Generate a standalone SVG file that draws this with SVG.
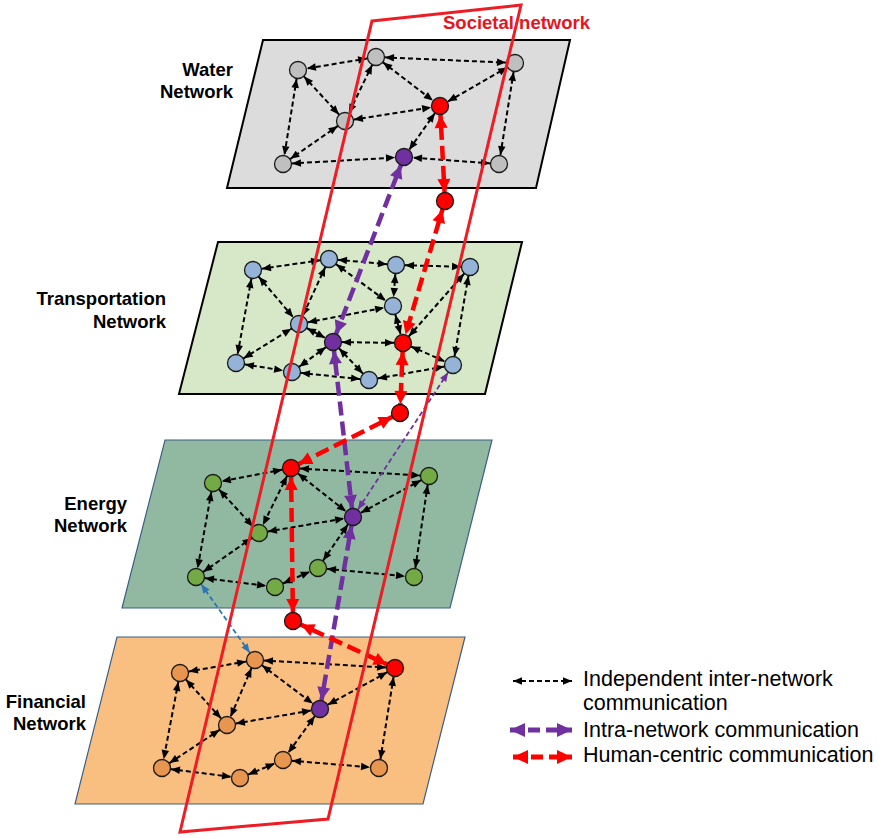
<svg xmlns="http://www.w3.org/2000/svg" width="879" height="838" viewBox="0 0 879 838">
<style>
.lbl{font-family:"Liberation Sans",Arial,sans-serif;font-weight:bold;font-size:18.5px;fill:#000}
.leg{font-family:"Liberation Sans",Arial,sans-serif;font-size:21.5px;fill:#000}
.e{stroke:#000;stroke-width:2;stroke-dasharray:5 3;fill:none;marker-start:url(#ab);marker-end:url(#ab)}
.hr{stroke:#ff0000;stroke-width:4.5;stroke-dasharray:14 6;fill:none;marker-start:url(#ar);marker-end:url(#ar)}
.ip{stroke:#7030a0;stroke-width:4.5;stroke-dasharray:14 6;fill:none;marker-start:url(#ap);marker-end:url(#ap)}
.tp{stroke:#7030a0;stroke-width:1.8;stroke-dasharray:5 3;fill:none;marker-start:url(#apt);marker-end:url(#apt)}
.tb{stroke:#2e75b6;stroke-width:1.8;stroke-dasharray:5 3;fill:none;marker-start:url(#abl);marker-end:url(#abl)}
circle{stroke:#1a1a1a;stroke-width:1.3}
.w{fill:#bfbfbf}.t{fill:#95b3d7}.g{fill:#74aa45}.o{fill:#e8954f}.r{fill:#ff0000}.p{fill:#7030a0}
</style>
<defs>
<marker id="ab" markerUnits="userSpaceOnUse" markerWidth="9" markerHeight="8" refX="18" refY="3.75" orient="auto-start-reverse" overflow="visible"><path d="M0,0 L9,3.75 L0,7.5 z" fill="#000"/></marker>
<marker id="apt" markerUnits="userSpaceOnUse" markerWidth="9" markerHeight="8" refX="18" refY="3.75" orient="auto-start-reverse" overflow="visible"><path d="M0,0 L9,3.75 L0,7.5 z" fill="#7030a0"/></marker>
<marker id="abl" markerUnits="userSpaceOnUse" markerWidth="9" markerHeight="8" refX="18" refY="3.75" orient="auto-start-reverse" overflow="visible"><path d="M0,0 L9,3.75 L0,7.5 z" fill="#2e75b6"/></marker>
<marker id="ar" markerUnits="userSpaceOnUse" markerWidth="13" markerHeight="13" refX="22" refY="6.5" orient="auto-start-reverse" overflow="visible"><path d="M0,0 L13,6.5 L0,13 z" fill="#ff0000"/></marker>
<marker id="ap" markerUnits="userSpaceOnUse" markerWidth="13" markerHeight="13" refX="22" refY="6.5" orient="auto-start-reverse" overflow="visible"><path d="M0,0 L13,6.5 L0,13 z" fill="#7030a0"/></marker>
<marker id="lb" markerUnits="userSpaceOnUse" markerWidth="9" markerHeight="8" refX="9" refY="3.75" orient="auto-start-reverse" overflow="visible"><path d="M0,0 L9,3.75 L0,7.5 z" fill="#000"/></marker>
<marker id="lr" markerUnits="userSpaceOnUse" markerWidth="15" markerHeight="14" refX="15" refY="7" orient="auto-start-reverse" overflow="visible"><path d="M0,0 L15,7 L0,14 z" fill="#ff0000"/></marker>
<marker id="lp" markerUnits="userSpaceOnUse" markerWidth="15" markerHeight="14" refX="15" refY="7" orient="auto-start-reverse" overflow="visible"><path d="M0,0 L15,7 L0,14 z" fill="#7030a0"/></marker>
</defs>
<rect width="879" height="838" fill="#fff"/>
<g id="planes">
<polygon id="water-plane" points="263,40 570,40 536,188 227,188" fill="#dcdcdc" stroke="#000" stroke-width="2"/>
<polygon id="transport-plane" points="218,242 522,242 485,394 179,394" fill="#d6e8c8" stroke="#000" stroke-width="2"/>
<polygon id="energy-plane" points="165,440 492,440 450,608 122,608" fill="#91b9a1" stroke="#3d5f85" stroke-width="1.2"/>
<polygon id="financial-plane" points="117,637 465,637 423,804 75,804" fill="#f9bf80" stroke="#3d5f85" stroke-width="1.2"/>
</g>
<g id="labels">
<text class="lbl" x="233" y="76" text-anchor="end">Water</text>
<text class="lbl" x="233" y="98" text-anchor="end">Network</text>
<text class="lbl" x="166" y="305" text-anchor="end">Transportation</text>
<text class="lbl" x="166" y="328" text-anchor="end">Network</text>
<text class="lbl" x="127" y="510" text-anchor="end">Energy</text>
<text class="lbl" x="127" y="532" text-anchor="end">Network</text>
<text class="lbl" x="86" y="708" text-anchor="end">Financial</text>
<text class="lbl" x="86" y="730" text-anchor="end">Network</text>
</g>
<g id="connectors">
<line class="e" x1="376" y1="57" x2="298" y2="70"/>
<line class="e" x1="376" y1="57" x2="515" y2="63"/>
<line class="e" x1="376" y1="57" x2="440" y2="106"/>
<line class="e" x1="376" y1="57" x2="345" y2="121"/>
<line class="e" x1="298" y1="70" x2="345" y2="121"/>
<line class="e" x1="298" y1="70" x2="283" y2="164"/>
<line class="e" x1="515" y1="63" x2="440" y2="106"/>
<line class="e" x1="345" y1="121" x2="440" y2="106"/>
<line class="e" x1="345" y1="121" x2="283" y2="164"/>
<line class="e" x1="440" y1="106" x2="404" y2="157"/>
<line class="e" x1="515" y1="63" x2="499" y2="164"/>
<line class="e" x1="283" y1="164" x2="404" y2="157"/>
<line class="e" x1="499" y1="164" x2="404" y2="157"/>
<line class="e" x1="329" y1="259" x2="253" y2="270"/>
<line class="e" x1="329" y1="259" x2="396" y2="265"/>
<line class="e" x1="396" y1="265" x2="470" y2="267"/>
<line class="e" x1="329" y1="259" x2="299" y2="324"/>
<line class="e" x1="253" y1="270" x2="299" y2="324"/>
<line class="e" x1="253" y1="270" x2="236" y2="363"/>
<line class="e" x1="329" y1="259" x2="393" y2="306"/>
<line class="e" x1="396" y1="265" x2="393" y2="306"/>
<line class="e" x1="299" y1="324" x2="393" y2="306"/>
<line class="e" x1="393" y1="306" x2="403" y2="343"/>
<line class="e" x1="470" y1="267" x2="403" y2="343"/>
<line class="e" x1="470" y1="267" x2="453" y2="365"/>
<line class="e" x1="299" y1="324" x2="333" y2="342"/>
<line class="e" x1="333" y1="342" x2="403" y2="343"/>
<line class="e" x1="403" y1="343" x2="453" y2="365"/>
<line class="e" x1="236" y1="363" x2="299" y2="324"/>
<line class="e" x1="236" y1="363" x2="292" y2="372"/>
<line class="e" x1="333" y1="342" x2="292" y2="372"/>
<line class="e" x1="333" y1="342" x2="369" y2="380"/>
<line class="e" x1="292" y1="372" x2="369" y2="380"/>
<line class="e" x1="369" y1="380" x2="453" y2="365"/>
<line class="e" x1="291" y1="468" x2="213" y2="483"/>
<line class="e" x1="291" y1="468" x2="429" y2="476"/>
<line class="e" x1="291" y1="468" x2="259" y2="533"/>
<line class="e" x1="291" y1="468" x2="353" y2="517"/>
<line class="e" x1="213" y1="483" x2="259" y2="533"/>
<line class="e" x1="213" y1="483" x2="196" y2="577"/>
<line class="e" x1="429" y1="476" x2="353" y2="517"/>
<line class="e" x1="429" y1="476" x2="414" y2="577"/>
<line class="e" x1="259" y1="533" x2="353" y2="517"/>
<line class="e" x1="259" y1="533" x2="196" y2="577"/>
<line class="e" x1="353" y1="517" x2="318" y2="568"/>
<line class="e" x1="196" y1="577" x2="275" y2="587"/>
<line class="e" x1="275" y1="587" x2="318" y2="568"/>
<line class="e" x1="318" y1="568" x2="414" y2="577"/>
<line class="e" x1="255" y1="660" x2="180" y2="673"/>
<line class="e" x1="255" y1="660" x2="395" y2="668"/>
<line class="e" x1="255" y1="660" x2="227" y2="725"/>
<line class="e" x1="255" y1="660" x2="320" y2="709"/>
<line class="e" x1="180" y1="673" x2="227" y2="725"/>
<line class="e" x1="180" y1="673" x2="162" y2="768"/>
<line class="e" x1="395" y1="668" x2="320" y2="709"/>
<line class="e" x1="395" y1="668" x2="379" y2="768"/>
<line class="e" x1="227" y1="725" x2="320" y2="709"/>
<line class="e" x1="227" y1="725" x2="162" y2="768"/>
<line class="e" x1="320" y1="709" x2="283" y2="760"/>
<line class="e" x1="162" y1="768" x2="240" y2="778"/>
<line class="e" x1="240" y1="778" x2="283" y2="760"/>
<line class="e" x1="283" y1="760" x2="379" y2="768"/>
<line class="tp" x1="453" y1="365" x2="353" y2="517"/>
<line class="tb" x1="196" y1="577" x2="255" y2="660"/>
<line class="ip" x1="404" y1="157" x2="333" y2="342"/>
<line class="ip" x1="333" y1="342" x2="353" y2="517"/>
<line class="ip" x1="353" y1="517" x2="320" y2="709"/>
<line class="hr" x1="440" y1="106" x2="445" y2="201"/>
<line class="hr" x1="445" y1="201" x2="403" y2="343"/>
<line class="hr" x1="403" y1="343" x2="400" y2="413"/>
<line class="hr" x1="400" y1="413" x2="291" y2="468"/>
<line class="hr" x1="291" y1="468" x2="293" y2="621"/>
<line class="hr" x1="293" y1="621" x2="395" y2="668"/>
</g>
<g id="nodes">
<g id="water-a"><circle class="w" cx="298" cy="70" r="8.5"/></g>
<g id="water-b"><circle class="w" cx="376" cy="57" r="8.5"/></g>
<g id="water-c"><circle class="w" cx="515" cy="63" r="8.5"/></g>
<g id="water-d"><circle class="r" cx="440" cy="106" r="8.5"/></g>
<g id="water-e"><circle class="w" cx="345" cy="121" r="8.5"/></g>
<g id="water-f"><circle class="w" cx="283" cy="164" r="8.5"/></g>
<g id="water-g"><circle class="p" cx="404" cy="157" r="8.5"/></g>
<g id="water-h"><circle class="w" cx="499" cy="164" r="8.5"/></g>
<g id="water-i"><circle class="r" cx="445" cy="201" r="8.5"/></g>
<g id="trans-1"><circle class="t" cx="253" cy="270" r="8.5"/></g>
<g id="trans-2"><circle class="t" cx="329" cy="259" r="8.5"/></g>
<g id="trans-3"><circle class="t" cx="396" cy="265" r="8.5"/></g>
<g id="trans-4"><circle class="t" cx="470" cy="267" r="8.5"/></g>
<g id="trans-5"><circle class="t" cx="393" cy="306" r="8.5"/></g>
<g id="trans-6"><circle class="t" cx="299" cy="324" r="8.5"/></g>
<g id="trans-7"><circle class="p" cx="333" cy="342" r="8.5"/></g>
<g id="trans-8"><circle class="r" cx="403" cy="343" r="8.5"/></g>
<g id="trans-9"><circle class="t" cx="236" cy="363" r="8.5"/></g>
<g id="trans-10"><circle class="t" cx="292" cy="372" r="8.5"/></g>
<g id="trans-11"><circle class="t" cx="369" cy="380" r="8.5"/></g>
<g id="trans-12"><circle class="t" cx="453" cy="365" r="8.5"/></g>
<g id="trans-13"><circle class="r" cx="400" cy="413" r="8.5"/></g>
<g id="energy-1"><circle class="r" cx="291" cy="468" r="8.5"/></g>
<g id="energy-2"><circle class="g" cx="213" cy="483" r="8.5"/></g>
<g id="energy-3"><circle class="g" cx="429" cy="476" r="8.5"/></g>
<g id="energy-4"><circle class="p" cx="353" cy="517" r="8.5"/></g>
<g id="energy-5"><circle class="g" cx="259" cy="533" r="8.5"/></g>
<g id="energy-6"><circle class="g" cx="196" cy="577" r="8.5"/></g>
<g id="energy-7"><circle class="g" cx="318" cy="568" r="8.5"/></g>
<g id="energy-8"><circle class="g" cx="275" cy="587" r="8.5"/></g>
<g id="energy-9"><circle class="g" cx="414" cy="577" r="8.5"/></g>
<g id="energy-10"><circle class="r" cx="293" cy="621" r="8.5"/></g>
<g id="fin-1"><circle class="o" cx="180" cy="673" r="8.5"/></g>
<g id="fin-2"><circle class="o" cx="255" cy="660" r="8.5"/></g>
<g id="fin-3"><circle class="r" cx="395" cy="668" r="8.5"/></g>
<g id="fin-4"><circle class="p" cx="320" cy="709" r="8.5"/></g>
<g id="fin-5"><circle class="o" cx="227" cy="725" r="8.5"/></g>
<g id="fin-6"><circle class="o" cx="162" cy="768" r="8.5"/></g>
<g id="fin-7"><circle class="o" cx="283" cy="760" r="8.5"/></g>
<g id="fin-8"><circle class="o" cx="240" cy="778" r="8.5"/></g>
<g id="fin-9"><circle class="o" cx="379" cy="768" r="8.5"/></g>
</g>
<g id="societal">
<polygon points="372,21 521,5 328,819 180,832" fill="none" stroke="#ee1c24" stroke-width="3" stroke-linejoin="miter"/>
<text x="443" y="29" style="font-family:'Liberation Sans',Arial,sans-serif;font-weight:bold;font-size:18.5px" fill="#e8141c">Societal network</text>
</g>
<g id="legend">
<line x1="513" y1="681" x2="572" y2="681" stroke="#000" stroke-width="2" stroke-dasharray="5 3" marker-start="url(#lb)" marker-end="url(#lb)"/>
<line x1="510" y1="730" x2="572" y2="730" stroke="#7030a0" stroke-width="5" stroke-dasharray="12 6" marker-start="url(#lp)" marker-end="url(#lp)"/>
<line x1="513" y1="757" x2="572" y2="757" stroke="#ff0000" stroke-width="5" stroke-dasharray="12 6" marker-start="url(#lr)" marker-end="url(#lr)"/>
<text class="leg" x="583" y="686">Independent inter-network</text>
<text class="leg" x="583" y="710">communication</text>
<text class="leg" x="583" y="737">Intra-network communication</text>
<text class="leg" x="583" y="762">Human-centric communication</text>
</g>
</svg>
